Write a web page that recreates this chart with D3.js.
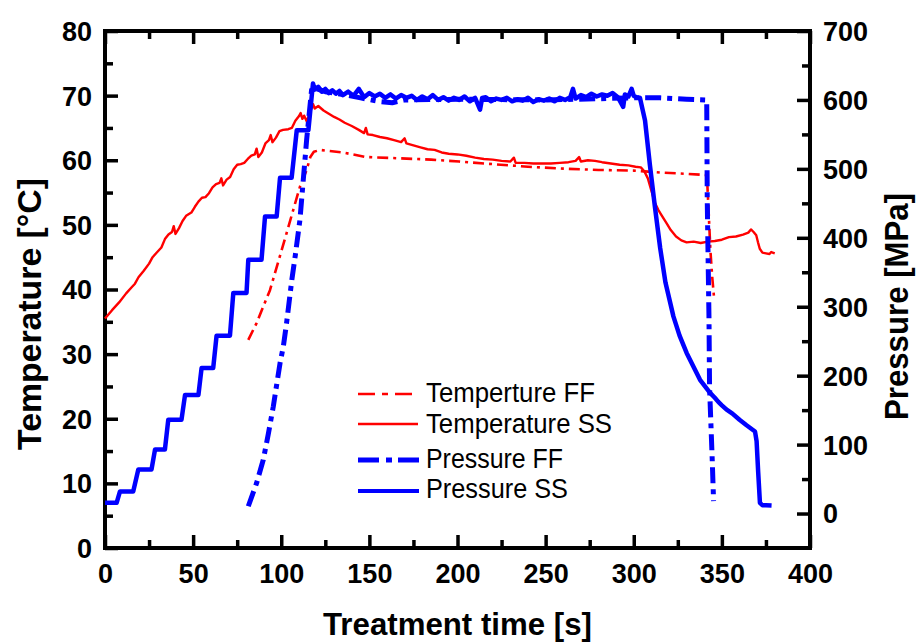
<!DOCTYPE html>
<html>
<head>
<meta charset="utf-8">
<script src="https://cdn.jsdelivr.net/npm/d3@7"></script>
<style>
  html, body { margin: 0; padding: 0; background: #fff; }
  svg { display: block; }
  text { font-family: "Liberation Sans", Arial, sans-serif; }
</style>
</head>
<body>
<svg id="chart" width="918" height="644"></svg>
<script>
// ---------------- data (time [s], value) ----------------
const xTicks = [0, 50, 100, 150, 200, 250, 300, 350, 400];
const tempTicks = [0, 10, 20, 30, 40, 50, 60, 70, 80];
const presTicks = [0, 100, 200, 300, 400, 500, 600, 700];

const legendLabels = ["Temperture FF", "Temperature SS", "Pressure FF", "Pressure SS"];

const tempFF = [
  [81.3,32.2],[86,34.8],[90,37.5],[93.6,39.9],[98,44.0],[103,48.7],[107,52.5],[110.6,55.9],
  [114.4,58.5],[116.5,60.5],[118.5,61.3],[122,61.6],[135,61.2],[148,60.5],[167,60.3],
  [185,60.1],[201,59.8],[220,59.4],[240,59.0],[260,58.7],[280,58.5],[300,58.4],[315,58.1],
  [330,57.9],[341.5,57.7],[342.5,52.0],[343.5,46.0],[344.5,42.0],[345.5,38.9]
];

const tempSS = [
  [0,35.5],[4,36.8],[8,38.0],[12,39.4],[15,40.3],[17,40.9],[19,41.9],[22,42.9],[25,44.0],
  [27,45.0],[29,45.6],[32,46.5],[34,47.8],[36,48.5],[38,48.9],[39,49.8],[40,48.6],[42,49.5],
  [44,50.6],[46,51.4],[49,51.9],[51,52.8],[53,53.6],[55,54.2],[57,54.3],[59,54.9],[61,55.8],
  [63,56.3],[65,56.5],[66,57.2],[67,56.1],[69,57.0],[71,57.4],[73,58.6],[75,59.3],[77,59.4],
  [79,59.6],[81,60.2],[83,60.7],[85,60.9],[86,61.8],[87,60.5],[89,61.2],[91,62.6],[93,63.1],
  [94,63.9],[95,62.8],[97,63.5],[99,64.5],[101,64.7],[104,64.8],[106,65.0],[108,66.1],
  [110,66.8],[111,67.3],[112,66.4],[113,66.9],[114.5,66.0],[116,67.2],[118,68.7],[119,68.0],
  [121,68.4],[124,67.7],[127,67.2],[130,66.7],[133,66.3],[136,65.8],[140,65.3],[144,64.7],
  [147,64.2],[148,65.0],[149,64.0],[152,63.9],[156,63.6],[160,63.4],[164,63.1],[168,62.8],
  [170,63.4],[171,62.6],[175,62.3],[179,62.0],[183,61.7],[187,61.6],[191,61.2],[195,61.0],
  [200,60.9],[205,60.7],[210,60.4],[215,60.2],[220,60.1],[225,59.9],[230,59.8],[232,60.4],
  [233,59.6],[238,59.6],[243,59.5],[248,59.5],[253,59.5],[258,59.6],[263,59.7],[267,59.9],
  [269,60.5],[270,59.8],[274,60.0],[278,59.9],[282,59.7],[287,59.5],[292,59.3],[297,59.2],
  [301,59.0],[304,58.9],[306,58.3],[308,57.2],[310,55.3],[312,53.4],[314,52.3],[316,51.4],
  [318.5,50.3],[321,49.2],[324,48.2],[327,47.6],[330,47.3],[334,47.4],[338,47.2],[342,47.4],
  [346,47.5],[350,47.7],[354,48.1],[358,48.2],[362,48.5],[365,48.8],[366.5,49.3],[368,48.9],
  [369.5,48.4],[370.5,47.3],[371.5,46.3],[373,45.7],[375,45.6],[377,45.5],[378,45.8],[380,45.6]
];

const presFF = [
  [81.3,10.6],[86,44],[89.8,78],[92.6,114.5],[95.5,155.5],[99.3,218],[101.2,242.5],[103,276],
  [106,339],[108,375],[110.6,426],[112.5,484],[114.4,542],[117.2,614.5],[118,618],[125,612],
  [135,608],[145,603],[155,598],[163,596],[170,600],[200,601],[250,600],[300,603],[315,603],
  [330,601],[341.4,600],[341.7,455],[342.7,281],[343,184],[344.5,80],[345.3,18]
];

const presSS = [
  [0,15.5],[6.6,15.5],[8.5,32],[16,32],[18.9,64],[26.4,64],[28.4,93],[34,93],[35.9,136],
  [43.4,136],[45.4,172],[53,172],[54.8,211],[61.4,211],[63.3,258],[70.9,258],[72.8,320],
  [80.3,320],[81.3,368],[88.8,368],[90.8,431],[97.4,431],[99.3,487],[105.9,487],[108.8,556],
  [115.4,556],[118,624],[119,615],[121,619],[123,612],[125,616],[127,610],[129,614],[131,609],
  [133,613],[135,607],[138,612],[141,606],[144,616],[147,604],[150,610],[153,605],[156,609],
  [159,603],[162,608],[165,602],[168,607],[171,603],[174,606],[177,600],[180,605],[183,601],
  [186,607],[189,600],[192,604],[195,599],[198,603],[201,600],[204,605],[207,598],[210,603],
  [212.8,586],[214,603],[216,604],[219,598],[222,602],[225,600],[228,603],[231,598],[234,601],
  [237,599],[240,603],[243,597],[246,601],[249,599],[252,602],[255,598],[258,603],[261,600],
  [264,604],[265.5,616],[267,602],[270,607],[273,604],[276,609],[279,605],[282,608],[285,606],
  [288,610],[291,604],[294,590],[295,608],[297,605],[298.8,616],[300,606],[302,603],
  [303.5,603],[306.4,570],[309.2,505],[312,445],[315,385],[318,335],[322.5,286],[326,258],
  [330,233],[337.6,194],[343.3,175],[346,168],[348,162],[350,157],[352.7,150.7],[356,145],
  [360,136],[364,128],[368.8,119],[369.7,105],[370.6,60],[371.6,15.5],[373,12],[375,12],
  [378.2,11.6]
];

// ---------------- layout ----------------
const svg = d3.select("#chart");
const L = 105, R = 810, T = 31, B = 548;

const x = d3.scaleLinear().domain([0, 400]).range([L, R]);
const yT = d3.scaleLinear().domain([0, 80]).range([B, T]);
const yP = d3.scaleLinear().domain([-50, 700]).range([B, T]);

const tickFont = "bold 27px 'Liberation Sans', Arial, sans-serif";

function styleAxis(g) {
  g.select(".domain").remove();
  g.selectAll(".tick line").attr("stroke", "#000").attr("stroke-width", 3.5);
}

// minor ticks
const xMinor = d3.range(25, 400, 50);
const tMinor = d3.range(5, 80, 10);

svg.append("g").attr("transform", `translate(0,${B})`)
  .call(d3.axisBottom(x).tickValues(xMinor).tickSize(-8).tickFormat(""))
  .call(styleAxis);
svg.append("g").attr("transform", `translate(0,${T})`)
  .call(d3.axisTop(x).tickValues(xMinor).tickSize(-8).tickFormat(""))
  .call(styleAxis);
svg.append("g").attr("transform", `translate(${L},0)`)
  .call(d3.axisLeft(yT).tickValues(tMinor).tickSize(-8).tickFormat(""))
  .call(styleAxis);
svg.append("g").attr("transform", `translate(${R},0)`)
  .call(d3.axisRight(yP).tickValues(d3.range(50, 700, 100)).tickSize(-8).tickFormat(""))
  .call(styleAxis);

// major ticks
const gx = svg.append("g").attr("transform", `translate(0,${B})`)
  .call(d3.axisBottom(x).tickValues(xTicks).tickSize(-13).tickFormat(d3.format("d")))
  .call(styleAxis);
gx.selectAll("text").attr("y", 35).attr("dy", 0).style("font", tickFont).attr("fill", "#000");

svg.append("g").attr("transform", `translate(0,${T})`)
  .call(d3.axisTop(x).tickValues(xTicks).tickSize(-13).tickFormat(""))
  .call(styleAxis);

const gl = svg.append("g").attr("transform", `translate(${L},0)`)
  .call(d3.axisLeft(yT).tickValues(tempTicks).tickSize(-13).tickFormat(d3.format("d")))
  .call(styleAxis);
gl.selectAll("text").attr("x", -13).attr("dy", "0.35em").style("font", tickFont).attr("fill", "#000");

const gr = svg.append("g").attr("transform", `translate(${R},0)`)
  .call(d3.axisRight(yP).tickValues(presTicks).tickSize(-13).tickFormat(d3.format("d")))
  .call(styleAxis);
gr.selectAll("text").attr("x", 13).attr("dy", "0.35em").style("font", tickFont).attr("fill", "#000");

// frame
svg.append("rect").attr("x", L).attr("y", T).attr("width", R - L).attr("height", B - T)
  .attr("fill", "none").attr("stroke", "#000").attr("stroke-width", 4);

// ---------------- series ----------------
const lineT = d3.line().x(d => x(d[0])).y(d => yT(d[1]));
const lineP = d3.line().x(d => x(d[0])).y(d => yP(d[1]));

const styles = [
  { color: "#ff0000", width: 2.6, dash: "11,5,3,5", legDash: "17,7,6,7" },
  { color: "#ff0000", width: 2.4, dash: null, legDash: null },
  { color: "#0000ff", width: 5, dash: "16,6,5,6", legDash: "21,7,6,6" },
  { color: "#0000ff", width: 4.5, dash: null, legDash: null }
];

const seriesPaths = [
  lineT(tempFF), lineT(tempSS), lineP(presFF), lineP(presSS)
];

seriesPaths.forEach((p, i) => {
  const s = styles[i];
  svg.append("path").attr("d", p).attr("fill", "none")
    .attr("stroke", s.color).attr("stroke-width", s.width)
    .attr("stroke-linejoin", "round")
    .attr("stroke-dasharray", s.dash);
});

// ---------------- legend ----------------
const legY = [394, 424, 460, 491];
const legX2 = [413, 418, 419, 419];
const legTextY = [401.5, 433, 468, 498];
const legLen = [169, 186, 137, 142];
legendLabels.forEach((lab, i) => {
  const s = styles[i];
  svg.append("line").attr("x1", 358).attr("x2", legX2[i]).attr("y1", legY[i]).attr("y2", legY[i])
    .attr("stroke", s.color).attr("stroke-width", i === 3 ? 4 : s.width)
    .attr("stroke-dasharray", s.legDash);
  svg.append("text").attr("x", 426).attr("y", legTextY[i])
    .attr("textLength", legLen[i]).attr("lengthAdjust", "spacingAndGlyphs")
    .style("font", "27px 'Liberation Sans', Arial, sans-serif").attr("fill", "#000").text(lab);
});

// ---------------- axis titles ----------------
svg.append("text").attr("x", 457.5).attr("y", 635).attr("text-anchor", "middle")
  .attr("textLength", 269).attr("lengthAdjust", "spacingAndGlyphs")
  .style("font", "bold 32px 'Liberation Sans', Arial, sans-serif").text("Treatment time [s]");

svg.append("text").attr("transform", "translate(41,314) rotate(-90)").attr("text-anchor", "middle")
  .attr("textLength", 272).attr("lengthAdjust", "spacingAndGlyphs")
  .style("font", "bold 34px 'Liberation Sans', Arial, sans-serif").text("Temperature [°C]");

svg.append("text").attr("transform", "translate(908,306.5) rotate(-90)").attr("text-anchor", "middle")
  .attr("textLength", 227).attr("lengthAdjust", "spacingAndGlyphs")
  .style("font", "bold 33px 'Liberation Sans', Arial, sans-serif").text("Pressure [MPa]");
</script>
</body>
</html>
